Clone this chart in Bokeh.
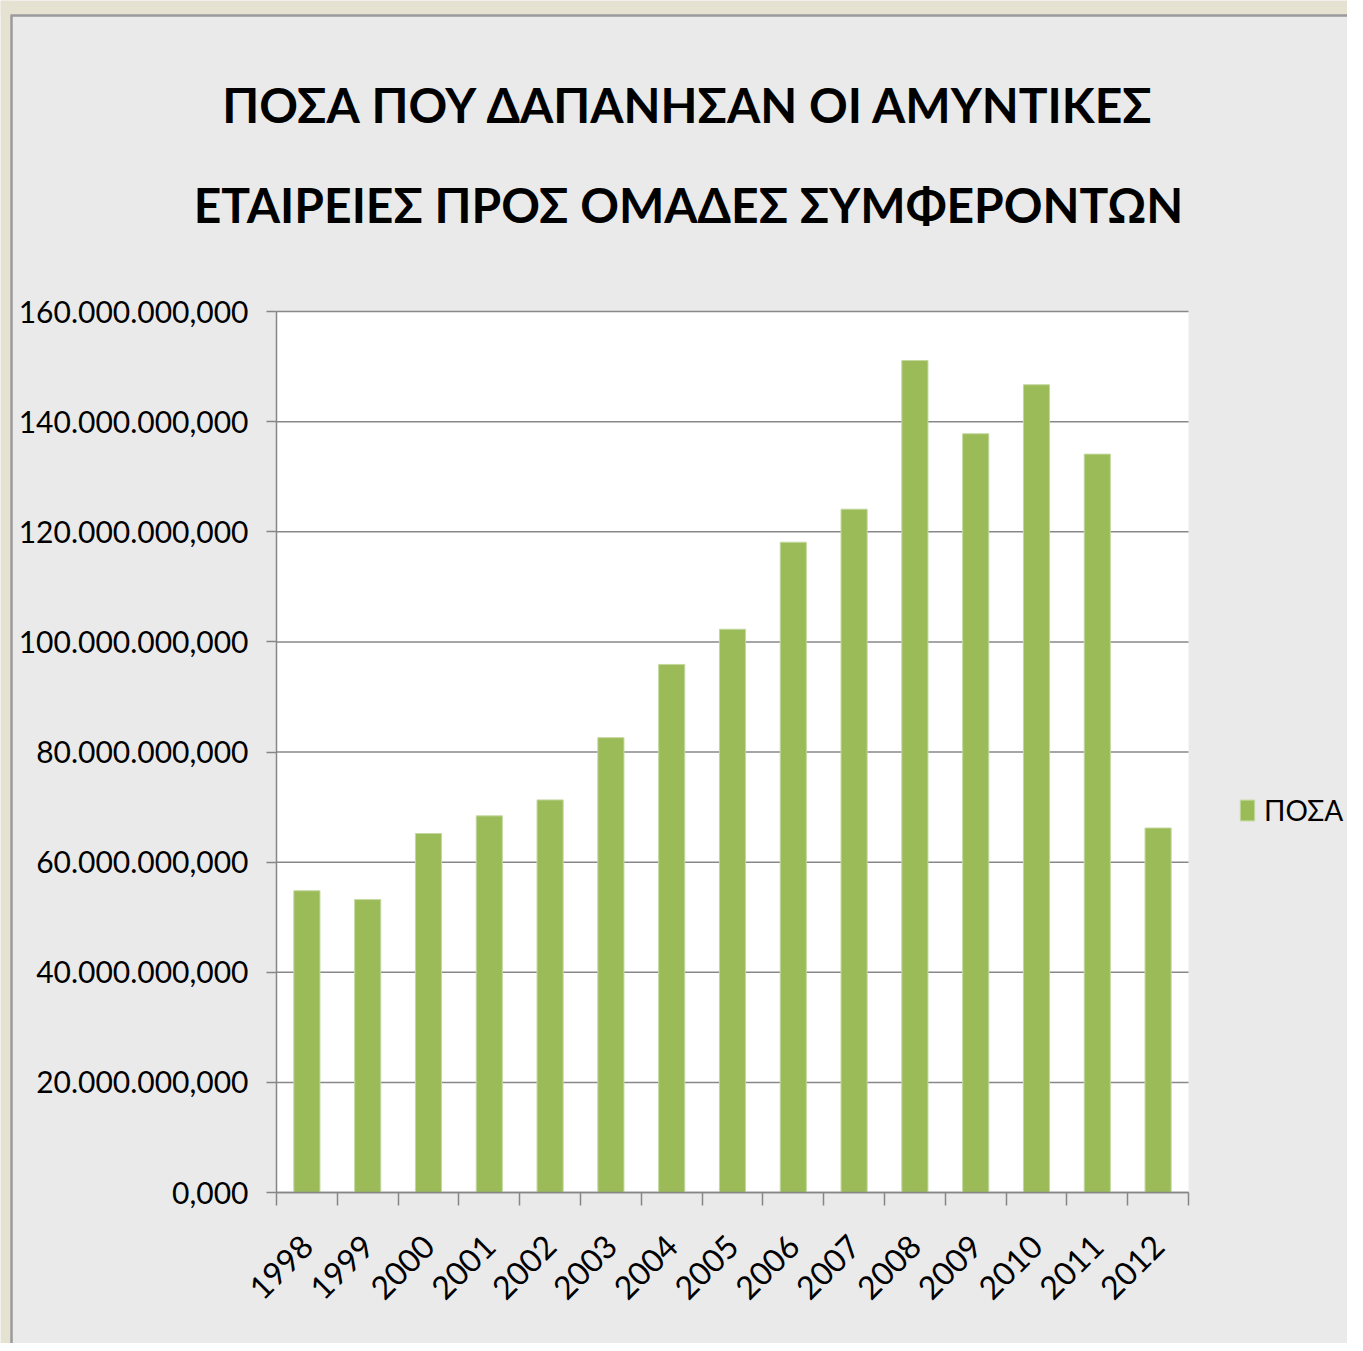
from bokeh.plotting import figure
from bokeh.models import (ColumnDataSource, Legend, LegendItem, Label,
                          FixedTicker, CustomJSTickFormatter, Range1d,
                          LinearAxis)
from bokeh.embed import file_html
from bokeh.resources import INLINE
import math

years = ["1998", "1999", "2000", "2001", "2002", "2003", "2004", "2005",
         "2006", "2007", "2008", "2009", "2010", "2011", "2012"]
amounts_mn = [54.8, 53.2, 65.2, 68.4, 71.3, 82.6, 95.9, 102.3,
              118.1, 124.1, 151.1, 137.8, 146.7, 134.1, 66.2]
y_ticks_mn = [0, 20, 40, 60, 80, 100, 120, 140, 160]
series_name = "ΠΟΣΑ"
title_lines = ["ΠΟΣΑ ΠΟΥ ΔΑΠΑΝΗΣΑΝ ΟΙ ΑΜΥΝΤΙΚΕΣ",
               "ΕΤΑΙΡΕΙΕΣ ΠΡΟΣ ΟΜΑΔΕΣ ΣΥΜΦΕΡΟΝΤΩΝ"]

n = len(years)
centers = [i + 0.5 for i in range(n)]
values = [v * 1e6 for v in amounts_mn]
y_ticks = [v * 1e6 for v in y_ticks_mn]
y_max = y_ticks[-1]
src = ColumnDataSource(dict(x=centers, top=values, year=years))

FONT = "Lato"
BG = "#eaeaea"
FRAME_BEIGE = "#e6e2d2"

W, H = 1347, 1343
# plot area in pixels (left, right, top, bottom)
PL, PR, PT, PB = 276, 1188, 311, 1192
xpx = (PR - PL) / n
ypx = (PB - PT) / y_max
x_range = Range1d(-PL / xpx, n + (W - PR) / xpx)
y_range = Range1d(-(H - PB) / ypx, y_max + PT / ypx)


def px_x(px):
    return x_range.start + px / xpx


def px_y(py):
    return y_range.end - py / ypx


p = figure(x_range=x_range, y_range=y_range, width=W, height=H,
           x_axis_location=None, y_axis_location=None,
           output_backend="svg", toolbar_location=None, min_border=0)
p.background_fill_color = BG
p.border_fill_color = BG
p.outline_line_color = None
p.grid.grid_line_color = None

# window-like beige frame at top and left edges
p.quad(left=[px_x(0), px_x(0)], right=[px_x(W), px_x(10)],
       top=[px_y(0), px_y(0)], bottom=[px_y(14), px_y(H)],
       fill_color=FRAME_BEIGE, line_color=None)
p.segment(x0=[px_x(10), px_x(11)], x1=[px_x(W), px_x(11)],
          y0=[px_y(15), px_y(15)], y1=[px_y(15), px_y(H)],
          line_color="#9a9a9a", line_width=2.5)

# white plot area
p.quad(left=0, right=n, bottom=0, top=y_max, fill_color="white", line_color=None)
# horizontal gridlines
p.segment(x0=[0] * len(y_ticks), x1=[n] * len(y_ticks), y0=y_ticks, y1=y_ticks,
          line_color="#888888", line_width=1.5)

r = p.vbar(x="x", top="top", width=0.43, source=src,
           fill_color="#9bbb59", line_color="#c4d89f", line_width=1)

# Y axis
yaxis = LinearAxis(fixed_location=0, bounds=(0, y_max),
                   ticker=FixedTicker(ticks=y_ticks),
                   formatter=CustomJSTickFormatter(code="""
    const s = Math.round(tick).toString();
    const g = s.replace(/\\B(?=(\\d{3})+(?!\\d))/g, '.');
    return g + ',000';
"""),
                   major_label_text_font=FONT, major_label_text_font_size="30px",
                   major_label_text_color="black",
                   axis_line_color="#868686", axis_line_width=1.5,
                   major_tick_line_color="#868686", major_tick_line_width=1.5,
                   major_tick_out=10, major_tick_in=0,
                   minor_tick_line_color=None, major_label_standoff=18)
p.add_layout(yaxis, "left")

# X axis: boundary ticks + rotated category labels
tick_axis = LinearAxis(fixed_location=0, bounds=(0, n),
                       ticker=FixedTicker(ticks=list(range(n + 1))),
                       formatter=CustomJSTickFormatter(code="return '';"),
                       axis_line_color="#868686", axis_line_width=1.5,
                       major_tick_line_color="#868686", major_tick_line_width=1.5,
                       major_tick_out=13, major_tick_in=0,
                       minor_tick_line_color=None,
                       major_label_text_font_size="1px", major_label_standoff=0)
p.add_layout(tick_axis, "below")
label_axis = LinearAxis(fixed_location=0,
                        ticker=FixedTicker(ticks=centers),
                        formatter=CustomJSTickFormatter(args=dict(labels=years),
                            code="return labels[Math.floor(tick)];"),
                        axis_line_color=None, major_tick_line_color=None,
                        minor_tick_line_color=None,
                        major_label_orientation=math.pi / 4,
                        major_label_text_font=FONT,
                        major_label_text_font_size="32px",
                        major_label_text_color="black",
                        major_label_standoff=42)
p.add_layout(label_axis, "below")

# Title
for txt, ys in zip(title_lines, [H - 104, H - 204]):
    p.add_layout(Label(x=688, y=ys, x_units="screen", y_units="screen",
                       text=txt, text_align="center", text_baseline="middle",
                       text_font=FONT, text_font_style="bold",
                       text_font_size="48px", text_color="black"))

legend = Legend(items=[LegendItem(label=series_name, renderers=[r])],
                location=(1238, H - 810 - 17), orientation="vertical",
                background_fill_alpha=0, border_line_color=None,
                label_text_font=FONT, label_text_font_size="28px",
                label_text_color="black", glyph_width=18, glyph_height=26,
                padding=0, margin=0, spacing=0, label_standoff=8)
p.add_layout(legend, "center")

open("out.html", "w").write(file_html(p, INLINE))
